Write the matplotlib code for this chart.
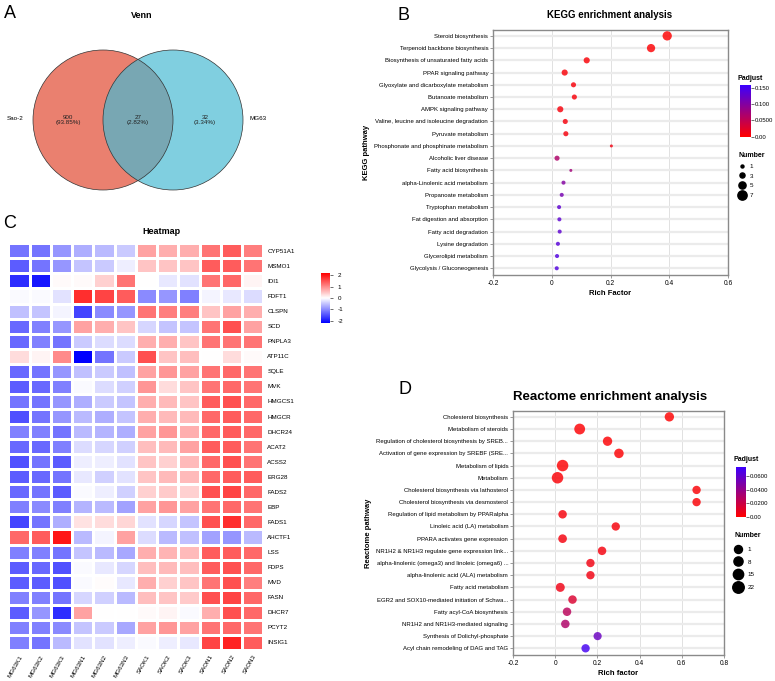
import numpy as np
import matplotlib.pyplot as plt
from matplotlib.colors import LinearSegmentedColormap, Normalize
from matplotlib.patches import Circle
from matplotlib.lines import Line2D
import matplotlib.cm as cm

plt.rcParams['font.family'] = ['Liberation Sans', 'DejaVu Sans']
plt.rcParams['axes.unicode_minus'] = False

# ---------------- data ----------------
venn_sets = ['Sao-2', 'MG63']
venn_counts = [900, 27, 32]   # only Sao-2, both, only MG63

genes = ['CYP51A1', 'MSMO1', 'IDI1', 'FDFT1', 'CLSPN', 'SCD', 'PNPLA3', 'ATP11C',
         'SQLE', 'MVK', 'HMGCS1', 'HMGCR', 'DHCR24', 'ACAT2', 'ACSS2', 'ERG28',
         'FADS2', 'EBP', 'FADS1', 'AHCTF1', 'LSS', 'FDPS', 'MVD', 'FASN', 'DHCR7',
         'PCYT2', 'INSIG1']
samples = ['MG63K1', 'MG63K2', 'MG63K3', 'MG63N1', 'MG63N2', 'MG63N3',
           'SAOK1', 'SAOK2', 'SAOK3', 'SAON1', 'SAON2', 'SAON3']
zscores = [
    [-1.2, -1.2, -0.9, -0.7, -0.6, -0.45, 0.8, 0.7, 0.7, 1.2, 1.4, 1.1],
    [-1.4, -1.2, -0.9, -0.5, -0.45, -0.15, 0.5, 0.5, 0.5, 1.4, 1.4, 1.2],
    [-1.8, -2.0, 0.05, 0.05, 0.4, 1.2, 0.0, -0.2, -0.25, 1.2, 1.3, 0.1],
    [-0.05, -0.05, -0.25, 1.8, 1.6, 1.4, -1.0, -0.9, -1.1, -0.1, -0.2, -0.3],
    [-0.55, -0.5, -0.1, -1.6, -1.0, -0.9, 1.2, 1.1, 1.1, 0.5, 0.8, 0.7],
    [-1.3, -1.1, -0.9, 0.8, 0.7, 0.5, -0.35, -0.5, -0.5, 1.2, 1.5, 0.8],
    [-1.3, -1.1, -1.2, -0.45, -0.3, -0.3, 0.7, 0.7, 0.5, 1.2, 1.2, 1.2],
    [0.3, 0.1, 1.0, -2.2, -1.2, -0.45, 1.5, 0.5, 0.55, 0.0, 0.3, 0.05],
    [-1.3, -1.2, -0.9, -0.55, -0.45, -0.55, 0.8, 0.9, 0.8, 1.2, 1.3, 1.2],
    [-1.4, -1.3, -1.1, -0.05, -0.3, -0.4, 0.9, 0.3, 0.5, 1.2, 1.3, 1.2],
    [-1.2, -1.2, -0.9, -0.7, -0.45, -0.5, 0.7, 0.6, 0.5, 1.4, 1.5, 1.3],
    [-1.5, -1.2, -0.9, -0.6, -0.7, -0.5, 0.7, 0.6, 0.6, 1.3, 1.4, 1.3],
    [-1.1, -1.1, -1.2, -0.6, -0.65, -0.7, 0.8, 0.9, 0.7, 1.3, 1.4, 1.3],
    [-1.3, -1.3, -1.1, -0.3, -0.35, -0.4, 0.55, 0.6, 0.8, 1.4, 1.4, 1.2],
    [-1.5, -1.2, -1.4, -0.15, -0.15, -0.25, 0.5, 0.4, 0.6, 1.3, 1.5, 1.2],
    [-1.4, -1.3, -1.2, -0.2, -0.4, -0.25, 0.5, 0.6, 0.6, 1.3, 1.4, 1.4],
    [-1.3, -1.2, -1.4, -0.05, -0.15, -0.4, 0.4, 0.45, 0.4, 1.5, 1.6, 1.3],
    [-1.1, -1.0, -1.1, -0.65, -0.6, -0.8, 0.8, 0.9, 0.8, 1.2, 1.3, 1.2],
    [-1.6, -1.2, -0.7, 0.25, 0.3, 0.35, -0.25, -0.35, -0.5, 1.5, 1.8, 1.3],
    [1.3, 1.4, 2.0, -0.6, -0.1, 0.8, -0.3, -0.6, -0.55, -0.8, -0.9, -0.6],
    [-1.1, -1.1, -1.2, -0.5, -0.6, -0.75, 0.7, 0.65, 0.6, 1.4, 1.4, 1.3],
    [-1.4, -1.3, -1.5, -0.05, -0.2, -0.35, 0.55, 0.6, 0.55, 1.4, 1.5, 1.3],
    [-1.4, -1.4, -1.5, -0.05, 0.03, -0.2, 0.7, 0.4, 0.5, 1.2, 1.5, 1.1],
    [-1.1, -1.1, -1.2, -0.35, -0.4, -0.6, 0.55, 0.5, 0.45, 1.5, 1.6, 1.3],
    [-1.4, -0.9, -1.8, 0.8, 0.0, 0.0, 0.05, 0.1, -0.05, 0.7, 1.5, 1.3],
    [-1.1, -1.1, -1.0, -0.5, -0.45, -0.75, 0.8, 0.9, 0.8, 1.2, 1.3, 1.2],
    [-1.1, -1.2, -0.6, -0.25, -0.25, -0.15, -0.05, -0.15, -0.2, 1.6, 1.9, 1.4],
]

kegg_terms = ['Steroid biosynthesis', 'Terpenoid backbone biosynthesis',
              'Biosynthesis of unsaturated fatty acids', 'PPAR signaling pathway',
              'Glyoxylate and dicarboxylate metabolism', 'Butanoate metabolism',
              'AMPK signaling pathway', 'Valine, leucine and isoleucine degradation',
              'Pyruvate metabolism', 'Phosphonate and phosphinate metabolism',
              'Alcoholic liver disease', 'Fatty acid biosynthesis',
              'alpha-Linolenic acid metabolism', 'Propanoate metabolism',
              'Tryptophan metabolism', 'Fat digestion and absorption',
              'Fatty acid degradation', 'Lysine degradation',
              'Glycerolipid metabolism', 'Glycolysis / Gluconeogenesis']
kegg_rich = [0.393, 0.338, 0.119, 0.044, 0.074, 0.077, 0.029, 0.046, 0.048, 0.203,
             0.018, 0.065, 0.040, 0.034, 0.025, 0.026, 0.027, 0.021, 0.018, 0.017]
kegg_number = [7, 6, 4, 4, 3, 3, 4, 3, 3, 1, 3, 1, 2, 2, 2, 2, 2, 2, 2, 2]
kegg_padj = [0.001, 0.002, 0.004, 0.005, 0.006, 0.006, 0.007, 0.008, 0.008, 0.01,
             0.065, 0.075, 0.1, 0.11, 0.13, 0.13, 0.13, 0.135, 0.14, 0.14]

react_terms = ['Cholesterol biosynthesis', 'Metabolism of steroids',
               'Regulation of cholesterol biosynthesis by SREB...',
               'Activation of gene expression by SREBF (SRE...',
               'Metabolism of lipids', 'Metabolism',
               'Cholesterol biosynthesis via lathosterol',
               'Cholesterol biosynthesis via desmosterol',
               'Regulation of lipid metabolism by PPARalpha',
               'Linoleic acid (LA) metabolism', 'PPARA activates gene expression',
               'NR1H2 & NR1H3 regulate gene expression link...',
               'alpha-linolenic (omega3) and linoleic (omega6) ...',
               'alpha-linolenic acid (ALA) metabolism', 'Fatty acid metabolism',
               'EGR2 and SOX10-mediated initiation of Schwa...',
               'Fatty acyl-CoA biosynthesis', 'NR1H2 and NR1H3-mediated signaling',
               'Synthesis of Dolichyl-phosphate', 'Acyl chain remodeling of DAG and TAG']
react_rich = [0.541, 0.116, 0.248, 0.302, 0.035, 0.011, 0.670, 0.670, 0.035, 0.287,
              0.035, 0.222, 0.167, 0.167, 0.024, 0.082, 0.056, 0.048, 0.201, 0.144]
react_number = [9, 18, 9, 10, 22, 22, 3, 3, 4, 3, 5, 4, 3, 3, 7, 4, 4, 4, 2, 3]
react_padj = [0.0005, 0.001, 0.001, 0.001, 0.001, 0.002, 0.002, 0.002, 0.003, 0.003,
              0.004, 0.004, 0.005, 0.005, 0.006, 0.014, 0.026, 0.03, 0.056, 0.07]

# ---------------- layout helpers ----------------
W, H = 775, 681
fig = plt.figure(figsize=(W / 100, H / 100), dpi=100)


def rect(x0, y0, x1, y1):
    return [x0 / W, 1 - y1 / H, (x1 - x0) / W, (y1 - y0) / H]


def ftext(x, y, s, **kw):
    kw.setdefault('ha', 'center')
    kw.setdefault('va', 'center')
    return fig.text(x / W, 1 - y / H, s, **kw)


padj_cmap = LinearSegmentedColormap.from_list('padj', ['#ff0000', '#3a00ff'])

# ---------------- A: Venn ----------------
ax = fig.add_axes(rect(0, 40, 290, 200))
ax.set_xlim(0, 290)
ax.set_ylim(200, 40)
ax.axis('off')
c1 = Circle((103, 120), 70, facecolor='#ea806f', edgecolor='none')
c2 = Circle((173, 120), 70, facecolor='#80cfe0', edgecolor='none')
ax.add_patch(c1)
ax.add_patch(c2)
inter = Circle((103, 120), 70, facecolor='#78a7b3', edgecolor='none')
ax.add_patch(inter)
inter.set_clip_path(c2)
for c in [(103, 120), (173, 120)]:
    ax.add_patch(Circle(c, 70, facecolor='none', edgecolor='#333333', lw=0.5))
total = sum(venn_counts)
for xc, n in zip([68, 138, 205], venn_counts):
    ax.text(xc, 120, f'{n}\n({n / total * 100:.2f}%)', ha='center', va='center',
            fontsize=4.5, linespacing=1.0, color='#222222')
ax.text(15, 118, venn_sets[0], ha='center', va='center', fontsize=4.5)
ax.text(258, 118, venn_sets[1], ha='center', va='center', fontsize=4.5)
ftext(142, 15, 'Venn', fontsize=6.5, fontweight='bold')
ftext(10, 14, 'A', fontsize=13)

# ---------------- C: heatmap ----------------
hm_cmap = LinearSegmentedColormap.from_list('hm', ['#0000ff', '#ffffff', '#ff0000'])
Z = np.array(zscores)
ax = fig.add_axes(rect(8.3, 243.3, 263.3, 650))
mesh = ax.pcolormesh(Z, cmap=hm_cmap, vmin=-2.2, vmax=2.2, edgecolors='white',
                     linewidth=0.8)
ax.set_xlim(0, len(samples))
ax.set_ylim(len(genes), 0)
ax.set_yticks(np.arange(len(genes)) + 0.5)
ax.set_yticklabels(genes, fontsize=4.5)
ax.yaxis.tick_right()
ax.set_xticks(np.arange(len(samples)) + 0.5)
ax.set_xticklabels(samples, fontsize=4.5, rotation=60, ha='right',
                   rotation_mode='anchor')
ax.tick_params(length=0, pad=3)
for s in ax.spines.values():
    s.set_visible(False)
cax = fig.add_axes(rect(321, 273, 330, 323))
cb = fig.colorbar(mesh, cax=cax, ticks=[-2, -1, 0, 1, 2])
cb.outline.set_visible(False)
cb.ax.tick_params(labelsize=4.5, length=2, width=0.4)
ftext(161, 231, 'Heatmap', fontsize=6.5, fontweight='bold')
ftext(10, 224, 'C', fontsize=13)


# ---------------- bubble plots ----------------
def bubble(box, terms, rich, number, padj, norm, dsize, xlim, xticks):
    ax = fig.add_axes(rect(*box))
    y = np.arange(len(terms))
    s = [(dsize(n) * 0.72) ** 2 for n in number]
    ax.scatter(rich, y, s=s, c=padj, cmap=padj_cmap, norm=norm, alpha=0.82,
               edgecolors='none', zorder=3)
    ax.set_yticks(y)
    ax.set_yticklabels(terms, fontsize=4.3)
    ax.set_ylim(len(terms) - 0.45, -0.48)
    ax.set_xlim(*xlim)
    ax.set_xticks(xticks)
    ax.set_xticklabels(['%g' % t for t in xticks], fontsize=4.8)
    ax.grid(axis='y', color='#ebebeb', lw=1.6, zorder=0)
    ax.grid(axis='x', color='#dcdcdc', lw=0.6, zorder=0)
    ax.set_axisbelow(True)
    for sp in ax.spines.values():
        sp.set_color('#8a8a8a')
        sp.set_linewidth(1.0)
    ax.tick_params(length=2, width=0.6, color='#8a8a8a', pad=1.5)
    return ax


def size_legend(x, y, values, dsize, spacing, textpad):
    handles = [Line2D([], [], marker='o', linestyle='none', color='black',
                      markersize=dsize(v) * 0.72) for v in values]
    leg = fig.legend(handles, [str(v) for v in values], title='Number',
                     loc='upper left', bbox_to_anchor=(x / W, 1 - y / H),
                     frameon=False, fontsize=4.5, title_fontsize=5,
                     labelspacing=spacing, handletextpad=textpad, borderpad=0,
                     handlelength=1.2, alignment='left')
    leg.get_title().set_fontweight('bold')


def padj_bar(box, norm, ticks, labels):
    cax = fig.add_axes(rect(*box))
    cb = fig.colorbar(cm.ScalarMappable(norm=norm, cmap=padj_cmap), cax=cax,
                      ticks=ticks)
    cb.set_ticklabels(labels)
    cb.outline.set_visible(False)
    cb.ax.tick_params(labelsize=4.3, length=2, width=0.4, pad=1)
    ftext(box[0] - 2, box[1] - 7, 'Padjust', fontsize=5, fontweight='bold',
          ha='left')


# B: KEGG
kegg_norm = Normalize(0, 0.159)
kegg_d = lambda n: 3 + (n - 1) * 1.05
ax = bubble((493, 30, 728, 275), kegg_terms, kegg_rich, kegg_number, kegg_padj,
            kegg_norm, kegg_d, (-0.2, 0.6), [-0.2, 0, 0.2, 0.4, 0.6])
ax.set_xlabel('Rich Factor', fontsize=5.5, fontweight='bold', labelpad=2)
ax.set_ylabel('KEGG pathway', fontsize=5.5, fontweight='bold', labelpad=3)
padj_bar((740, 85, 750.7, 136.7), kegg_norm, [0, 0.05, 0.1, 0.15],
         ['0.00', '0.0500', '0.100', '0.150'])
size_legend(735, 149, [1, 3, 5, 7], kegg_d, 0.7, 0.6)
ftext(610, 15, 'KEGG enrichment analysis', fontsize=7, fontweight='bold')
ftext(404, 15, 'B', fontsize=13)

# D: Reactome
react_norm = Normalize(0, 0.074)
react_d = lambda n: 8 + (n - 1) / 21 * 3.5
ax = bubble((513, 411, 724, 655), react_terms, react_rich, react_number, react_padj,
            react_norm, react_d, (-0.2, 0.8), [-0.2, 0, 0.2, 0.4, 0.6, 0.8])
ax.set_xlabel('Rich factor', fontsize=5.5, fontweight='bold', labelpad=2)
ax.set_ylabel('Reactome pathway', fontsize=5.5, fontweight='bold', labelpad=3)
padj_bar((736, 466.7, 745.7, 516.7), react_norm, [0, 0.02, 0.04, 0.06],
         ['0.00', '0.0200', '0.0400', '0.0600'])
size_legend(731, 529, [1, 8, 15, 22], react_d, 1.17, 1.0)
ftext(610, 397, 'Reactome enrichment analysis', fontsize=9.5, fontweight='bold')
ftext(405, 390, 'D', fontsize=13)

fig.savefig('out.png', dpi=100)
